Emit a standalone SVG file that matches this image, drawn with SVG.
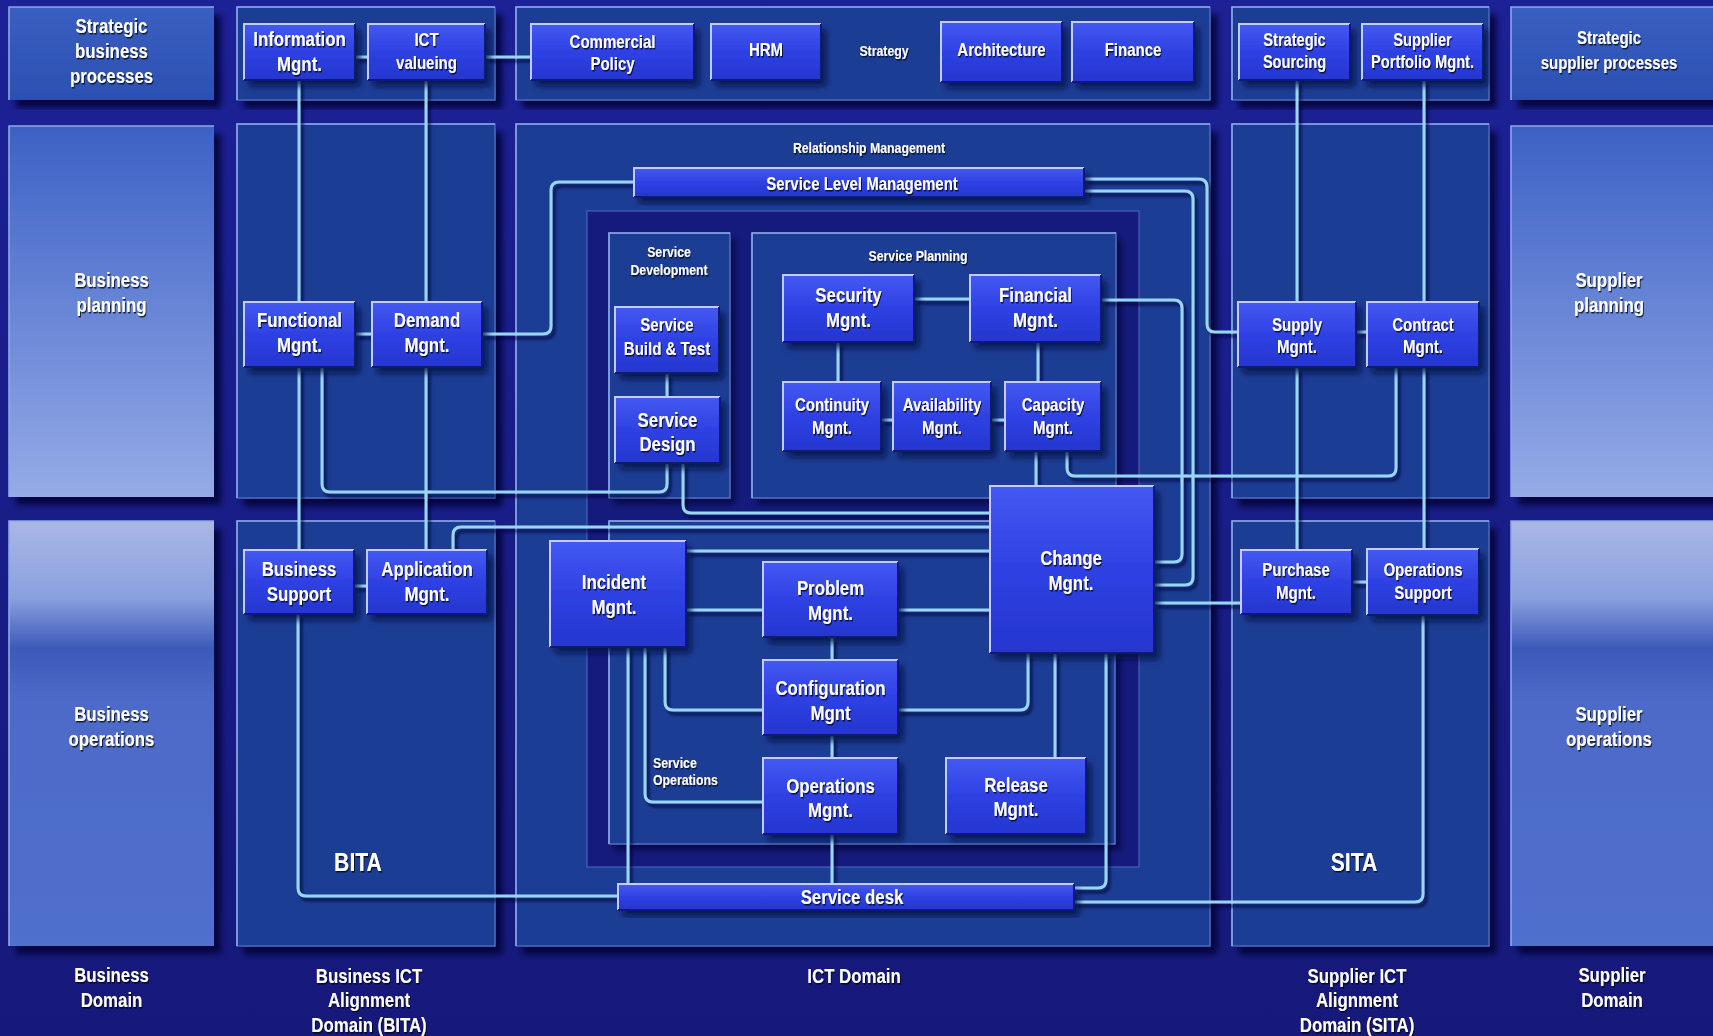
<svg xmlns="http://www.w3.org/2000/svg" width="1713" height="1036" viewBox="0 0 1713 1036">
<style>
.pm{fill:#1b3e94;stroke:#5f7dd0;stroke-width:1;filter:url(#psh)}
.ph{fill:none;stroke:#8ea7ea;stroke-width:1.6}
.pi{fill:#1b3e94;stroke:#6a86d6;stroke-width:1;filter:url(#psh2)}
.nb{fill:url(#ng);filter:url(#nsh)}
.nh{fill:none;stroke:#c3cbf6;stroke-width:2}
.nd{fill:none;stroke:#10187a;stroke-width:2}
.t{fill:#fff;font-family:"Liberation Sans",Arial,Helvetica,sans-serif;font-weight:bold;font-size:20.5px;text-anchor:middle;filter:url(#tsh)}
.s17{font-size:18.3px}.s16{font-size:17.8px}.s14{font-size:15px}.s24{font-size:25.8px}
.c{fill:none;stroke:#9ad7f6;stroke-width:3;stroke-linecap:butt;stroke-linejoin:round}
</style>
<defs>
<linearGradient id="bg" x1="0" y1="0" x2="0" y2="1"><stop offset="0" stop-color="#1c2196"/><stop offset="1" stop-color="#16197a"/></linearGradient>
<linearGradient id="ng" x1="0" y1="0" x2="0" y2="1"><stop offset="0" stop-color="#4459f2"/><stop offset=".5" stop-color="#2e41e3"/><stop offset="1" stop-color="#2536cf"/></linearGradient>
<linearGradient id="g1" x1="0" y1="0" x2="0" y2="1"><stop offset="0" stop-color="#3a5fc1"/><stop offset="1" stop-color="#2b50b2"/></linearGradient>
<linearGradient id="g2" x1="0" y1="0" x2="0" y2="1"><stop offset="0" stop-color="#3d61c5"/><stop offset="1" stop-color="#95abe7"/></linearGradient>
<linearGradient id="g3" x1="0" y1="0" x2="0" y2="1"><stop offset="0" stop-color="#a9b7e6"/><stop offset=".18" stop-color="#8aa0de"/><stop offset=".3" stop-color="#3b5ab9"/><stop offset=".42" stop-color="#4d6bc8"/><stop offset="1" stop-color="#506fcc"/></linearGradient>
<filter id="psh" x="-5%" y="-5%" width="115%" height="115%"><feDropShadow dx="7" dy="8" stdDeviation="3" flood-color="#02052e" flood-opacity=".8"/></filter>
<filter id="psh2" x="-5%" y="-5%" width="115%" height="115%"><feDropShadow dx="5" dy="6" stdDeviation="3" flood-color="#02052e" flood-opacity=".6"/></filter>
<filter id="nsh" x="-10%" y="-10%" width="130%" height="140%"><feDropShadow dx="5" dy="6" stdDeviation="3" flood-color="#030740" flood-opacity=".8"/></filter>
<filter id="lsh" filterUnits="userSpaceOnUse" x="0" y="0" width="1713" height="1036"><feDropShadow dx="3" dy="4" stdDeviation="1.6" flood-color="#020635" flood-opacity=".7"/></filter>
<filter id="tsh" x="-10%" y="-20%" width="130%" height="150%"><feDropShadow dx="1.2" dy="1.5" stdDeviation=".6" flood-color="#000" flood-opacity=".75"/></filter>
</defs>

<rect x="0" y="0" width="1713" height="1036" fill="url(#bg)"/>

<g id="panels">
  <rect x="9" y="7" width="205" height="93" fill="url(#g1)" filter="url(#psh)"/>
  <rect x="9" y="126" width="205" height="371" fill="url(#g2)" filter="url(#psh)"/>
  <rect x="9" y="521" width="205" height="425" fill="url(#g3)" filter="url(#psh)"/>
  <path class="ph" d="M9,100V7H214M9,497V126H214M9,946V521H214" stroke="#a9bbee"/>
  <rect x="1511" y="7" width="210" height="93" fill="url(#g1)" filter="url(#psh)"/>
  <rect x="1511" y="126" width="210" height="371" fill="url(#g2)" filter="url(#psh)"/>
  <rect x="1511" y="521" width="210" height="425" fill="url(#g3)" filter="url(#psh)"/>
  <path class="ph" d="M1511,100V7H1713M1511,497V126H1713M1511,946V521H1713"/>
  <rect class="pm" x="237" y="7" width="258" height="93"/>
  <rect class="pm" x="237" y="124" width="258" height="374"/>
  <rect class="pm" x="237" y="521" width="258" height="425"/>
  <path class="ph" d="M237,100V7H495M237,498V124H495M237,946V521H495"/>
  <rect class="pm" x="516" y="7" width="694" height="93"/>
  <rect class="pm" x="516" y="124" width="694" height="822"/>
  <path class="ph" d="M516,100V7H1210M516,946V124H1210"/>
  <rect class="pm" x="1232" y="7" width="257" height="93"/>
  <rect class="pm" x="1232" y="124" width="257" height="374"/>
  <rect class="pm" x="1232" y="521" width="257" height="425"/>
  <path class="ph" d="M1232,100V7H1489M1232,498V124H1489M1232,946V521H1489"/>
  <rect x="587" y="211" width="552" height="656" fill="#151b7c" stroke="#4f6bc8" stroke-width="1"/>
  <rect class="pi" x="609" y="233" width="121" height="265"/>
  <rect class="pi" x="752" y="233" width="364" height="265"/>
  <rect class="pi" x="609" y="521" width="506" height="323"/>
  <path class="ph" d="M609,498V233H730M752,498V233H1116M609,844V521H1115"/>
</g>

<g id="panel-labels">
  <text class="t" transform="translate(111.5,33) scale(.82,1)"><tspan x="0">Strategic</tspan><tspan x="0" dy="25">business</tspan><tspan x="0" dy="25">processes</tspan></text>
  <text class="t" transform="translate(111.5,287) scale(.82,1)"><tspan x="0">Business</tspan><tspan x="0" dy="25">planning</tspan></text>
  <text class="t" transform="translate(111.5,721) scale(.82,1)"><tspan x="0">Business</tspan><tspan x="0" dy="25">operations</tspan></text>
  <text class="t" transform="translate(111.5,982) scale(.82,1)"><tspan x="0">Business</tspan><tspan x="0" dy="25">Domain</tspan></text>
  <text class="t" transform="translate(369,983) scale(.82,1)"><tspan x="0">Business ICT</tspan><tspan x="0" dy="24.5">Alignment</tspan><tspan x="0" dy="24.5">Domain (BITA)</tspan></text>
  <text class="t" transform="translate(854,983) scale(.82,1)">ICT Domain</text>
  <text class="t" transform="translate(1357,983) scale(.82,1)"><tspan x="0">Supplier ICT</tspan><tspan x="0" dy="24.5">Alignment</tspan><tspan x="0" dy="24.5">Domain (SITA)</tspan></text>
  <text class="t" transform="translate(1612,982) scale(.82,1)"><tspan x="0">Supplier</tspan><tspan x="0" dy="25">Domain</tspan></text>
  <text class="t s17" transform="translate(1609,44) scale(.82,1)"><tspan x="0">Strategic</tspan><tspan x="0" dy="25">supplier processes</tspan></text>
  <text class="t" transform="translate(1609,287) scale(.82,1)"><tspan x="0">Supplier</tspan><tspan x="0" dy="25">planning</tspan></text>
  <text class="t" transform="translate(1609,721) scale(.82,1)"><tspan x="0">Supplier</tspan><tspan x="0" dy="25">operations</tspan></text>
  <text class="t s14" transform="translate(884,56) scale(.82,1)">Strategy</text>
  <text class="t s14" transform="translate(869,152.5) scale(.82,1)">Relationship Management</text>
  <text class="t s14" transform="translate(669,257) scale(.82,1)"><tspan x="0">Service</tspan><tspan x="0" dy="18">Development</tspan></text>
  <text class="t s14" transform="translate(918,261) scale(.82,1)">Service Planning</text>
  <text class="t s14" transform="translate(653,767.5) scale(.82,1)" style="text-anchor:start"><tspan x="0">Service</tspan><tspan x="0" dy="17.5">Operations</tspan></text>
  <text class="t s24" transform="translate(358,871) scale(.82,1)">BITA</text>
  <text class="t s24" transform="translate(1354,871) scale(.82,1)">SITA</text>
</g>

<g id="connectors" filter="url(#lsh)">
  <path class="c" d="M355,57H368"/>
  <path class="c" d="M485,57H531"/>
  <path class="c" d="M299,80V302"/>
  <path class="c" d="M426,80V302"/>
  <path class="c" d="M355,334H372"/>
  <path class="c" d="M482,334H543Q551,334 551,326V190Q551,182 559,182H634"/>
  <path class="c" d="M299,367V550"/>
  <path class="c" d="M426,367V550"/>
  <path class="c" d="M322,367V484Q322,492 330,492H659Q667,492 667,484V463"/>
  <path class="c" d="M683,463V505Q683,513 691,513H990"/>
  <path class="c" d="M453,550V535Q453,527 461,527H990"/>
  <path class="c" d="M354,586H367"/>
  <path class="c" d="M298,614V888Q298,896 306,896H618"/>
  <path class="c" d="M686,551H990"/>
  <path class="c" d="M686,610H763"/>
  <path class="c" d="M898,610H990"/>
  <path class="c" d="M832,637V660"/>
  <path class="c" d="M832,735V758"/>
  <path class="c" d="M832,834V884"/>
  <path class="c" d="M628,647V884"/>
  <path class="c" d="M645,647V794Q645,802 653,802H763"/>
  <path class="c" d="M665,647V702Q665,710 673,710H763"/>
  <path class="c" d="M898,710H1020Q1028,710 1028,702V653"/>
  <path class="c" d="M1055,653V758"/>
  <path class="c" d="M1106,653V880Q1106,888 1098,888H1074"/>
  <path class="c" d="M1074,902H1415Q1423,902 1423,894V615"/>
  <path class="c" d="M1036,451V486"/>
  <path class="c" d="M1067,451V468Q1067,476 1075,476H1388Q1396,476 1396,468V367"/>
  <path class="c" d="M1101,300H1174Q1182,300 1182,308V554Q1182,562 1174,562H1154"/>
  <path class="c" d="M1084,191H1185Q1193,191 1193,199V577Q1193,585 1185,585H1154"/>
  <path class="c" d="M1084,179H1199Q1207,179 1207,187V324Q1207,332 1215,332H1238"/>
  <path class="c" d="M1154,603H1241"/>
  <path class="c" d="M914,299H970"/>
  <path class="c" d="M838,342V382"/>
  <path class="c" d="M1038,342V382"/>
  <path class="c" d="M881,420H893"/>
  <path class="c" d="M991,420H1005"/>
  <path class="c" d="M667,373V397"/>
  <path class="c" d="M1297,80V302"/>
  <path class="c" d="M1297,367V550"/>
  <path class="c" d="M1424,80V302"/>
  <path class="c" d="M1424,367V549"/>
  <path class="c" d="M1356,332H1367"/>
  <path class="c" d="M1352,582H1367"/>
</g>

<g id="n-information"><rect class="nb" x="244" y="24" width="111" height="56"/><path class="nh" d="M244,80V24H355"/><path class="nd" d="M355,24V80H244"/><text class="t" transform="translate(299.5,46) scale(.82,1)"><tspan x="0">Information</tspan><tspan x="0" dy="25">Mgnt.</tspan></text></g>
<g id="n-ictvalueing"><rect class="nb" x="368" y="24" width="117" height="56"/><path class="nh" d="M368,80V24H485"/><path class="nd" d="M485,24V80H368"/><text class="t s17" transform="translate(426.5,46) scale(.82,1)"><tspan x="0">ICT</tspan><tspan x="0" dy="23">valueing</tspan></text></g>
<g id="n-commercial"><rect class="nb" x="531" y="24" width="163" height="56"/><path class="nh" d="M531,80V24H694"/><path class="nd" d="M694,24V80H531"/><text class="t s17" transform="translate(612.5,48) scale(.82,1)"><tspan x="0">Commercial</tspan><tspan x="0" dy="22.5">Policy</tspan></text></g>
<g id="n-hrm"><rect class="nb" x="711" y="24" width="110" height="56"/><path class="nh" d="M711,80V24H821"/><path class="nd" d="M821,24V80H711"/><text class="t s17" transform="translate(766,56) scale(.82,1)">HRM</text></g>
<g id="n-architecture"><rect class="nb" x="941" y="22" width="121" height="60"/><path class="nh" d="M941,82V22H1062"/><path class="nd" d="M1062,22V82H941"/><text class="t s17" transform="translate(1001.5,56) scale(.82,1)">Architecture</text></g>
<g id="n-finance"><rect class="nb" x="1072" y="22" width="122" height="60"/><path class="nh" d="M1072,82V22H1194"/><path class="nd" d="M1194,22V82H1072"/><text class="t s17" transform="translate(1133,56) scale(.82,1)">Finance</text></g>
<g id="n-strategicsourcing"><rect class="nb" x="1239" y="24" width="111" height="56"/><path class="nh" d="M1239,80V24H1350"/><path class="nd" d="M1350,24V80H1239"/><text class="t s16" transform="translate(1294.5,45.5) scale(.82,1)"><tspan x="0">Strategic</tspan><tspan x="0" dy="22.5">Sourcing</tspan></text></g>
<g id="n-supplierportfolio"><rect class="nb" x="1362" y="24" width="121" height="56"/><path class="nh" d="M1362,80V24H1483"/><path class="nd" d="M1483,24V80H1362"/><text class="t s16" transform="translate(1422.5,45.5) scale(.82,1)"><tspan x="0">Supplier</tspan><tspan x="0" dy="22.5">Portfolio Mgnt.</tspan></text></g>

<g id="n-functional"><rect class="nb" x="244" y="302" width="111" height="65"/><path class="nh" d="M244,367V302H355"/><path class="nd" d="M355,302V367H244"/><text class="t" transform="translate(299.5,327) scale(.82,1)"><tspan x="0">Functional</tspan><tspan x="0" dy="25">Mgnt.</tspan></text></g>
<g id="n-demand"><rect class="nb" x="372" y="302" width="110" height="65"/><path class="nh" d="M372,367V302H482"/><path class="nd" d="M482,302V367H372"/><text class="t" transform="translate(427,327) scale(.82,1)"><tspan x="0">Demand</tspan><tspan x="0" dy="25">Mgnt.</tspan></text></g>
<g id="n-slm"><rect class="nb" x="634" y="168" width="450" height="29"/><path class="nh" d="M634,197V168H1084"/><path class="nd" d="M1084,168V197H634"/><text class="t s17" transform="translate(862,189.5) scale(.82,1)">Service Level Management</text></g>
<g id="n-security"><rect class="nb" x="783" y="275" width="131" height="67"/><path class="nh" d="M783,342V275H914"/><path class="nd" d="M914,275V342H783"/><text class="t" transform="translate(848.5,302) scale(.82,1)"><tspan x="0">Security</tspan><tspan x="0" dy="25">Mgnt.</tspan></text></g>
<g id="n-financial"><rect class="nb" x="970" y="275" width="131" height="67"/><path class="nh" d="M970,342V275H1101"/><path class="nd" d="M1101,275V342H970"/><text class="t" transform="translate(1035.5,302) scale(.82,1)"><tspan x="0">Financial</tspan><tspan x="0" dy="25">Mgnt.</tspan></text></g>
<g id="n-buildtest"><rect class="nb" x="615" y="307" width="104" height="66"/><path class="nh" d="M615,373V307H719"/><path class="nd" d="M719,307V373H615"/><text class="t s17" transform="translate(667,330.5) scale(.82,1)"><tspan x="0">Service</tspan><tspan x="0" dy="25">Build &amp; Test</tspan></text></g>
<g id="n-servicedesign"><rect class="nb" x="615" y="397" width="105" height="66"/><path class="nh" d="M615,463V397H720"/><path class="nd" d="M720,397V463H615"/><text class="t" transform="translate(667.5,426.5) scale(.82,1)"><tspan x="0">Service</tspan><tspan x="0" dy="25">Design</tspan></text></g>
<g id="n-continuity"><rect class="nb" x="783" y="382" width="98" height="69"/><path class="nh" d="M783,451V382H881"/><path class="nd" d="M881,382V451H783"/><text class="t s17" transform="translate(832,411) scale(.82,1)"><tspan x="0">Continuity</tspan><tspan x="0" dy="23">Mgnt.</tspan></text></g>
<g id="n-availability"><rect class="nb" x="893" y="382" width="98" height="69"/><path class="nh" d="M893,451V382H991"/><path class="nd" d="M991,382V451H893"/><text class="t s17" transform="translate(942,411) scale(.82,1)"><tspan x="0">Availability</tspan><tspan x="0" dy="23">Mgnt.</tspan></text></g>
<g id="n-capacity"><rect class="nb" x="1005" y="382" width="96" height="69"/><path class="nh" d="M1005,451V382H1101"/><path class="nd" d="M1101,382V451H1005"/><text class="t s17" transform="translate(1053,411) scale(.82,1)"><tspan x="0">Capacity</tspan><tspan x="0" dy="23">Mgnt.</tspan></text></g>
<g id="n-supply"><rect class="nb" x="1238" y="302" width="118" height="65"/><path class="nh" d="M1238,367V302H1356"/><path class="nd" d="M1356,302V367H1238"/><text class="t s17" transform="translate(1297,330.5) scale(.82,1)"><tspan x="0">Supply</tspan><tspan x="0" dy="22.5">Mgnt.</tspan></text></g>
<g id="n-contract"><rect class="nb" x="1367" y="302" width="112" height="65"/><path class="nh" d="M1367,367V302H1479"/><path class="nd" d="M1479,302V367H1367"/><text class="t s17" transform="translate(1423,330.5) scale(.82,1)"><tspan x="0">Contract</tspan><tspan x="0" dy="22.5">Mgnt.</tspan></text></g>

<g id="n-businesssupport"><rect class="nb" x="244" y="550" width="110" height="64"/><path class="nh" d="M244,614V550H354"/><path class="nd" d="M354,550V614H244"/><text class="t" transform="translate(299,576) scale(.82,1)"><tspan x="0">Business</tspan><tspan x="0" dy="25">Support</tspan></text></g>
<g id="n-application"><rect class="nb" x="367" y="550" width="120" height="64"/><path class="nh" d="M367,614V550H487"/><path class="nd" d="M487,550V614H367"/><text class="t" transform="translate(427,576) scale(.82,1)"><tspan x="0">Application</tspan><tspan x="0" dy="25">Mgnt.</tspan></text></g>
<g id="n-incident"><rect class="nb" x="550" y="541" width="136" height="106"/><path class="nh" d="M550,647V541H686"/><path class="nd" d="M686,541V647H550"/><text class="t" transform="translate(614,589) scale(.82,1)"><tspan x="0">Incident</tspan><tspan x="0" dy="25">Mgnt.</tspan></text></g>
<g id="n-problem"><rect class="nb" x="763" y="562" width="135" height="75"/><path class="nh" d="M763,637V562H898"/><path class="nd" d="M898,562V637H763"/><text class="t" transform="translate(830.5,595) scale(.82,1)"><tspan x="0">Problem</tspan><tspan x="0" dy="25">Mgnt.</tspan></text></g>
<g id="n-change"><rect class="nb" x="990" y="486" width="164" height="167"/><path class="nh" d="M990,653V486H1154"/><path class="nd" d="M1154,486V653H990"/><text class="t" transform="translate(1071,565) scale(.82,1)"><tspan x="0">Change</tspan><tspan x="0" dy="25">Mgnt.</tspan></text></g>
<g id="n-configuration"><rect class="nb" x="763" y="660" width="135" height="75"/><path class="nh" d="M763,735V660H898"/><path class="nd" d="M898,660V735H763"/><text class="t" transform="translate(830.5,695) scale(.82,1)"><tspan x="0">Configuration</tspan><tspan x="0" dy="25">Mgnt</tspan></text></g>
<g id="n-operations"><rect class="nb" x="763" y="758" width="135" height="76"/><path class="nh" d="M763,834V758H898"/><path class="nd" d="M898,758V834H763"/><text class="t" transform="translate(830.5,792.5) scale(.82,1)"><tspan x="0">Operations</tspan><tspan x="0" dy="25">Mgnt.</tspan></text></g>
<g id="n-release"><rect class="nb" x="946" y="758" width="140" height="76"/><path class="nh" d="M946,834V758H1086"/><path class="nd" d="M1086,758V834H946"/><text class="t" transform="translate(1016,791.5) scale(.82,1)"><tspan x="0">Release</tspan><tspan x="0" dy="25">Mgnt.</tspan></text></g>
<g id="n-servicedesk"><rect class="nb" x="618" y="884" width="456" height="26"/><path class="nh" d="M618,910V884H1074"/><path class="nd" d="M1074,884V910H618"/><text class="t" transform="translate(852,904) scale(.82,1)">Service desk</text></g>
<g id="n-purchase"><rect class="nb" x="1241" y="550" width="111" height="64"/><path class="nh" d="M1241,614V550H1352"/><path class="nd" d="M1352,550V614H1241"/><text class="t s17" transform="translate(1296,576) scale(.82,1)"><tspan x="0">Purchase</tspan><tspan x="0" dy="23">Mgnt.</tspan></text></g>
<g id="n-opssupport"><rect class="nb" x="1367" y="549" width="112" height="66"/><path class="nh" d="M1367,615V549H1479"/><path class="nd" d="M1479,549V615H1367"/><text class="t s17" transform="translate(1423,576) scale(.82,1)"><tspan x="0">Operations</tspan><tspan x="0" dy="23">Support</tspan></text></g>
</svg>
